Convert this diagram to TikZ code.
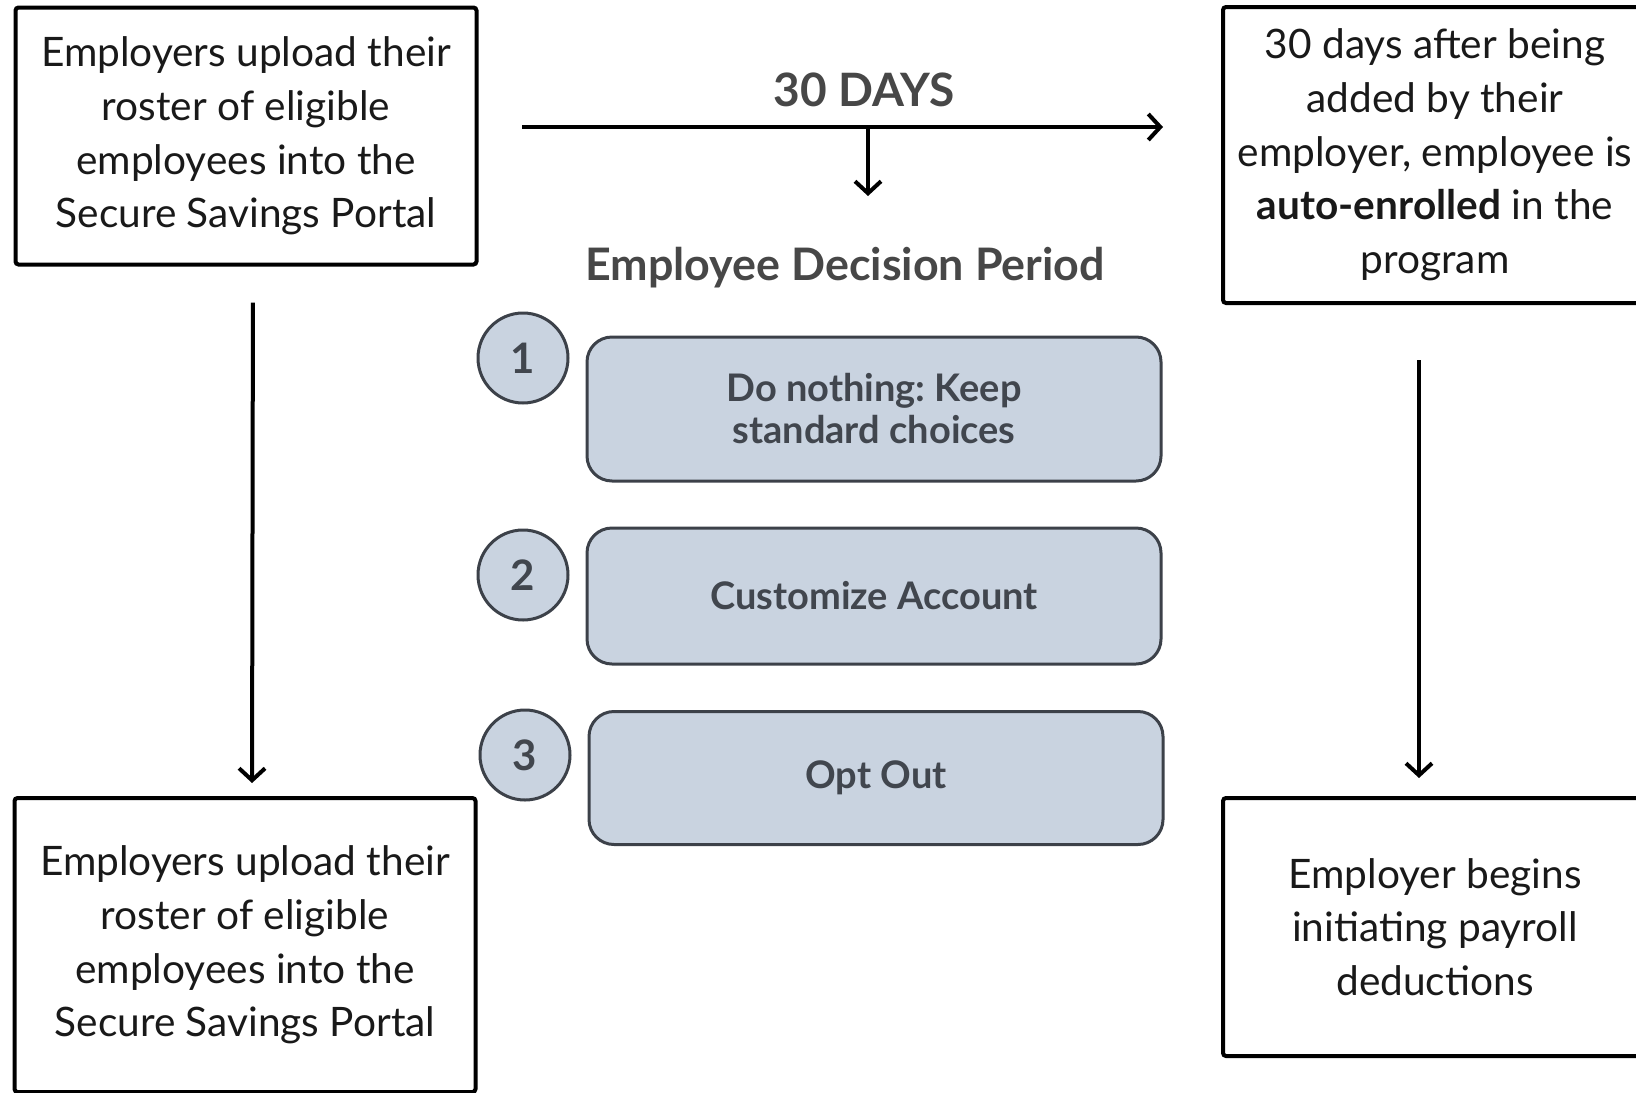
\documentclass[tikz,border=0pt]{standalone}
\usepackage{fontspec}
\setmainfont{Lato}
\usetikzlibrary{arrows.meta,positioning}
\frenchspacing

\definecolor{optfill}{HTML}{C9D3E0}
\definecolor{optline}{HTML}{3C4149}
\definecolor{opttext}{HTML}{41464E}
\definecolor{headtext}{HTML}{474747}

\begin{document}
\begin{tikzpicture}[x=0.5pt,y=-0.5pt]
\tikzset{stagebox/.style={draw=black,line width=2pt,rounded corners=1.5pt,align=center,text=black!90,font=\fontsize{20.3}{26.85}\selectfont}}
\tikzset{choicebox/.style={draw=optline,fill=optfill,line width=1.5pt,rounded corners=12.5pt,minimum width=287pt,align=center,text=opttext,font=\bfseries\fontsize{19}{21}\selectfont}}
\tikzset{choicenum/.style={circle,draw=optline,fill=optfill,line width=1.5pt,minimum size=45pt,inner sep=0pt,text=opttext,font=\bfseries\fontsize{21}{21}\selectfont}}
\tikzset{flow/.style={line width=2pt,-{Straight Barb[length=6pt,width=13pt,line width=2pt]}}}

\useasboundingbox (0,0) rectangle (1636,1092);

% left column
\node[stagebox,minimum width=230.5pt,minimum height=128.5pt] (upload) at (246,136)
  {Employers upload their\\roster of eligible\\employees into the\\Secure Savings Portal};
\node[stagebox,minimum width=230.5pt,minimum height=147pt] (roster) at (245,945)
  {Employers upload their\\roster of eligible\\employees into the\\Secure Savings Portal};

% right column
\node[stagebox,minimum width=212pt,minimum height=148pt] (enrol) at (1435,155)
  {30 days after being\\added by their\\employer, employee is\\\textbf{auto-enrolled} in the\\program};
\node[stagebox,minimum width=212pt,minimum height=129pt] (payroll) at (1435,927)
  {Employer begins\\initiating payroll\\deductions};

% the 30 day line
\coordinate (daystart) at (522,127);
\coordinate (dayend) at (1163,127);
\coordinate (daymid) at (868,127);
\coordinate (daydrop) at (868,196);
\node[text=headtext,font=\bfseries\fontsize{23}{23}\selectfont] (days) at (864,90) {30 DAYS};
\node[text=headtext,font=\bfseries\fontsize{22.4}{22.4}\selectfont] (period) at (845,268) {Employee Decision Period};

% choices
\node[choicebox,minimum height=72pt] (keep) at (874,409) {Do nothing: Keep\\standard choices};
\node[choicebox,minimum height=68pt] (custom) at (874,596) {Customize Account};
\node[choicebox,minimum height=66.5pt] (optout) at (876,778) {Opt Out};
\node[choicenum] (n1) at (523,358) {1};
\node[choicenum] (n2) at (523,575) {2};
\node[choicenum] (n3) at (525,755) {3};

% arrows
\draw[flow] (daystart) -- (dayend);
\draw[flow] (daymid) -- (daydrop);
\draw[flow,shorten <=18pt,shorten >=6.5pt] ([xshift=3.5pt]upload.south) -- ([xshift=3.5pt]roster.north);
\draw[flow,shorten <=27.5pt,shorten >=9pt] ([xshift=-8pt]enrol.south) -- ([xshift=-8pt]payroll.north);

\end{tikzpicture}
\end{document}
